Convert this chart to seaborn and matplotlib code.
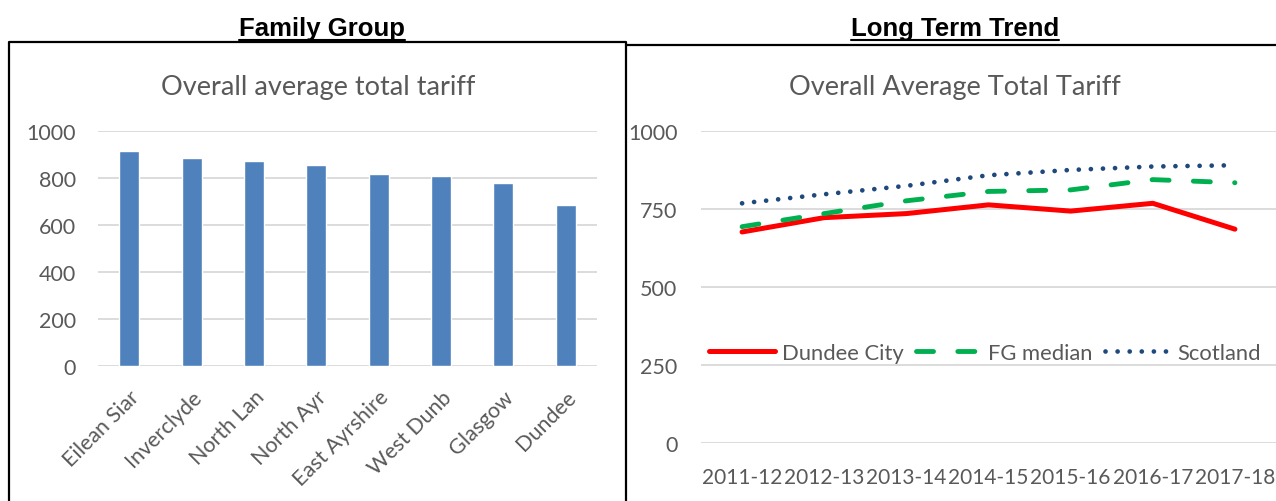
import matplotlib
matplotlib.use("Agg")
import matplotlib.pyplot as plt
import seaborn as sns
from matplotlib.lines import Line2D

# Family group: overall average total tariff by authority
authorities = ["Eilean Siar", "Inverclyde", "North Lan", "North Ayr",
               "East Ayrshire", "West Dunb", "Glasgow", "Dundee"]
tariff_fg = [915, 882, 871, 854, 816, 806, 776, 684]

# Long term trend
years = ["2011-12", "2012-13", "2013-14", "2014-15", "2015-16", "2016-17", "2017-18"]
dundee_city = [677, 723, 736, 764, 744, 769, 686]
fg_median = [694, 736, 777, 807, 812, 845, 835]
scotland = [769, 798, 825, 859, 876, 887, 891]

sns.set_theme(style="white")
plt.rcParams["font.family"] = ["Lato", "DejaVu Sans"]

W, H = 1276, 502
fig = plt.figure(figsize=(W / 100, H / 100), dpi=100)
fig.patch.set_facecolor("white")

GREY = "#595959"
GRID = "#D9D9D9"
TICK_SIZE = 15.5


def px_axes(x0, y0, x1, y1):
    return fig.add_axes([x0 / W, 1 - y1 / H, (x1 - x0) / W, (y1 - y0) / H])


def fig_line(xs, ys, **kw):
    fig.add_artist(Line2D([x / W for x in xs], [1 - y / H for y in ys],
                          transform=fig.transFigure, **kw))


# Panel frames
fig_line([9, 9, 626, 626], [H + 5, 42.7, 42.7, H + 5], color="black", lw=1.6)
fig_line([626, W + 5], [46.3, 46.3], color="black", lw=1.6)

# Section headings (bold, underlined)
headings = []
for cx, txt in [(322, "Family Group"), (955, "Long Term Trend")]:
    headings.append(fig.text(cx / W, 1 - 29.5 / H, txt, ha="center", va="center",
                             fontsize=18.5, fontweight="bold",
                             family="Liberation Sans", color="black"))
fig.canvas.draw()
renderer = fig.canvas.get_renderer()
for t in headings:
    bb = t.get_window_extent(renderer)
    fig_line([bb.x0, bb.x1], [40.5, 40.5], color="black", lw=1.5)

# ---- Bar chart ----
ax1 = px_axes(98, 131.7, 597, 366.7)
sns.barplot(x=authorities, y=tariff_fg, ax=ax1, color="#4F81BD",
            saturation=1, width=0.32, zorder=3)
ax1.set_ylim(0, 1000)
ax1.set_xlim(-0.5, len(authorities) - 0.5)
ax1.set_yticks([0, 200, 400, 600, 800, 1000])
ax1.yaxis.grid(True, color=GRID, lw=1.3, zorder=0)
ax1.set_axisbelow(True)
for s in ax1.spines.values():
    s.set_visible(False)
ax1.tick_params(axis="both", length=0, colors=GREY, labelsize=TICK_SIZE)
ax1.tick_params(axis="y", pad=16)
ax1.tick_params(axis="x", pad=15)
for lab in ax1.get_xticklabels():
    lab.set_rotation(45)
    lab.set_ha("right")
    lab.set_rotation_mode("anchor")
ax1.set_xlabel("")
ax1.set_ylabel("")
fig.text(318.5 / W, 1 - 87 / H, "Overall average total tariff", ha="center",
         va="center", fontsize=19.5, color=GREY)

# ---- Line chart ----
ax2 = px_axes(701, 132.3, 1276, 444)
sns.lineplot(x=years, y=dundee_city, ax=ax2, color="#FF0000", lw=3.6,
             label="Dundee City", sort=False)
sns.lineplot(x=years, y=fg_median, ax=ax2, color="#00B050", lw=3.5,
             label="FG median", sort=False)
sns.lineplot(x=years, y=scotland, ax=ax2, color="#1F497D", lw=3.4,
             label="Scotland", sort=False)
l_red, l_green, l_blue = ax2.lines[:3]
l_red.set_solid_capstyle("round")
l_green.set_dashes([3.5, 5.0])
l_green.set_dash_capstyle("round")
l_blue.set_dashes([0.01, 2.55])
l_blue.set_dash_capstyle("round")
ax2.set_ylim(0, 1000)
ax2.set_xlim(-0.5, len(years) - 0.5)
ax2.set_yticks([0, 250, 500, 750, 1000])
ax2.yaxis.grid(True, color=GRID, lw=1.3, zorder=0)
ax2.set_axisbelow(True)
for s in ax2.spines.values():
    s.set_visible(False)
ax2.tick_params(axis="both", length=0, colors=GREY, labelsize=TICK_SIZE)
ax2.tick_params(axis="x", labelsize=15.0)
ax2.tick_params(axis="y", pad=17)
ax2.tick_params(axis="x", pad=17)
ax2.set_xlabel("")
ax2.set_ylabel("")
leg = ax2.legend(loc="center", bbox_to_anchor=(985 / W, 1 - 354 / H),
                 bbox_transform=fig.transFigure, ncol=3, frameon=False,
                 fontsize=15.8, handlelength=3.0, handletextpad=0.3,
                 columnspacing=0.55, borderpad=0)
for t in leg.get_texts():
    t.set_color(GREY)
fig.text(955 / W, 1 - 87 / H, "Overall Average Total Tariff", ha="center",
         va="center", fontsize=19.5, color=GREY)

fig.savefig("out.png", dpi=100, facecolor="white")
